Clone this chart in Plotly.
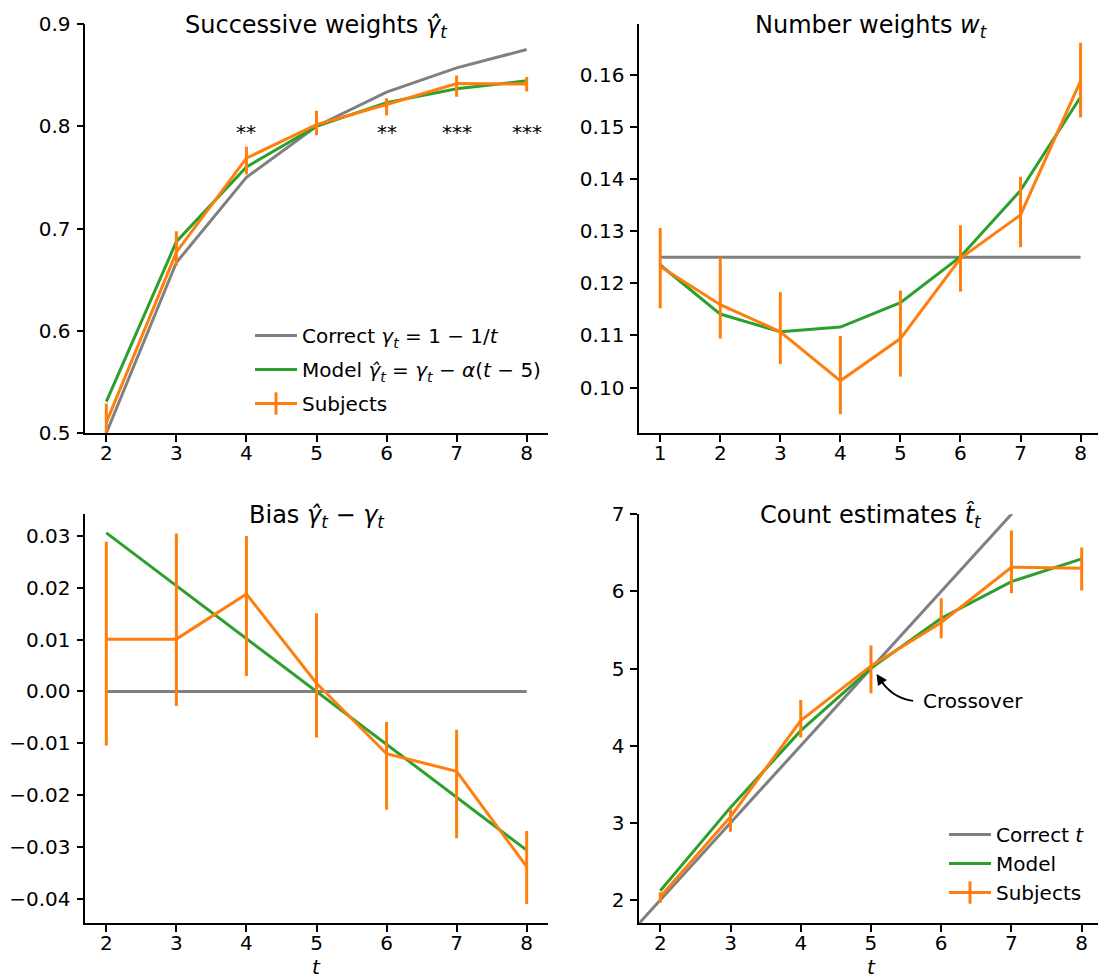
import plotly.graph_objects as go

# ---------------- data ----------------
t_succ = [2, 3, 4, 5, 6, 7, 8]
gamma_correct = [0.5, 0.6667, 0.75, 0.8, 0.8333, 0.8571, 0.875]
gamma_model = [0.5306, 0.6871, 0.7602, 0.8000, 0.8231, 0.8367, 0.8444]
gamma_subj = [0.5101, 0.6768, 0.7688, 0.8016, 0.8213, 0.8417, 0.8412]

bias_correct = [0, 0, 0, 0, 0, 0, 0]
bias_model = [0.0306, 0.0204, 0.0102, 0.0, -0.0102, -0.0204, -0.0306]
bias_subj = [0.0101, 0.0101, 0.0188, 0.0016, -0.0120, -0.0154, -0.0338]
subj_err_plus = [0.0188, 0.0204, 0.0112, 0.0135, 0.0061, 0.0080, 0.0069]
subj_err_minus = [0.0205, 0.0129, 0.0158, 0.0105, 0.0108, 0.0129, 0.0072]

t_num = [1, 2, 3, 4, 5, 6, 7, 8]
w_correct = [0.125, 0.125, 0.125, 0.125, 0.125, 0.125, 0.125, 0.125]
w_model = [0.1235, 0.1141, 0.1107, 0.1116, 0.1163, 0.1251, 0.1378, 0.1557]
w_subj = [0.1232, 0.1159, 0.1107, 0.1013, 0.1094, 0.1248, 0.1331, 0.1588]
w_err_plus = [0.0074, 0.0091, 0.0076, 0.0086, 0.0092, 0.0063, 0.0073, 0.0073]
w_err_minus = [0.0080, 0.0065, 0.0062, 0.0064, 0.0073, 0.0064, 0.0062, 0.0070]

t_count = [2, 3, 4, 5, 6, 7, 8]
identity_line = [0, 10]
count_model = [2.121, 3.201, 4.195, 5.003, 5.652, 6.127, 6.421]
count_subj = [2.043, 3.080, 4.325, 5.034, 5.596, 6.313, 6.300]
count_err_plus = [0.057, 0.095, 0.268, 0.263, 0.315, 0.475, 0.268]
count_err_minus = [0.078, 0.194, 0.220, 0.355, 0.204, 0.337, 0.290]

stars_t = [4, 6, 7, 8]
stars_text = ["**", "**", "***", "***"]
stars_level = 0.7945

titles = ["Successive weights <i>γ̂</i><sub><i>t</i></sub>",
          "Number weights <i>w</i><sub><i>t</i></sub>",
          "Bias <i>γ̂</i><sub><i>t</i></sub> − <i>γ</i><sub><i>t</i></sub>",
          "Count estimates <i>t̂</i><sub><i>t</i></sub>"]
x_label = "<i>t</i>"

# ---------------- style ----------------
FONT = "DejaVu Sans"
ORANGE = "#ff7f0e"
GREEN = "#2ca02c"
GRAY = "#808080"
LW = 3
W, H = 1098, 978


def px(p):
    return p / W


def py(p):
    return 1 - p / H


fig = go.Figure()


def line(x, y, color, name, ax, legend=None, show=False, group=None):
    fig.add_trace(go.Scatter(x=x, y=y, mode="lines", line=dict(color=color, width=LW),
                             name=name, showlegend=show, legend=legend, legendgroup=group,
                             xaxis=ax[0], yaxis=ax[1], hoverinfo="skip"))


def subj(x, y, ep, em, ax):
    fig.add_trace(go.Scatter(x=x, y=y, mode="lines", line=dict(color=ORANGE, width=LW),
                             error_y=dict(type="data", array=ep, arrayminus=em, symmetric=False,
                                          color=ORANGE, thickness=LW, width=0),
                             showlegend=False, xaxis=ax[0], yaxis=ax[1], name="Subjects"))


def subj_legend(ax, legend, group=None):
    fig.add_trace(go.Scatter(x=[None], y=[None], mode="lines+markers", name="Subjects",
                             line=dict(color=ORANGE, width=LW),
                             marker=dict(symbol="line-ns", size=16,
                                         line=dict(color=ORANGE, width=LW)),
                             legend=legend, legendgroup=group, showlegend=True,
                             xaxis=ax[0], yaxis=ax[1]))


A1, A2, A3, A4 = ("x", "y"), ("x2", "y2"), ("x3", "y3"), ("x4", "y4")

# Panel 1
line(t_succ, gamma_correct, GRAY, "Correct <i>γ</i><sub><i>t</i></sub> = 1 − 1/<i>t</i>", A1,
     "legend", True, "g1")
line(t_succ, gamma_model, GREEN,
     "Model <i>γ̂</i><sub><i>t</i></sub> = <i>γ</i><sub><i>t</i></sub> − <i>α</i>(<i>t</i> − 5)", A1,
     "legend", True, "g2")
subj(t_succ, gamma_subj, subj_err_plus, subj_err_minus, A1)
subj_legend(A1, "legend", "g3")

# Panel 2
line(t_num, w_correct, GRAY, "Correct", A2)
line(t_num, w_model, GREEN, "Model", A2)
subj(t_num, w_subj, w_err_plus, w_err_minus, A2)

# Panel 3
line(t_succ, bias_correct, GRAY, "Correct", A3)
line(t_succ, bias_model, GREEN, "Model", A3)
subj(t_succ, bias_subj, subj_err_plus, subj_err_minus, A3)

# Panel 4
line(identity_line, identity_line, GRAY, "Correct <i>t</i>", A4, "legend2", True)
line(t_count, count_model, GREEN, "Model", A4, "legend2", True)
subj(t_count, count_subj, count_err_plus, count_err_minus, A4)
subj_legend(A4, "legend2")

# ---------------- axes ----------------
left_dom = [px(85.3), px(547.7)]
right_dom = [px(639.2), 1.0]
top_dom = [py(433), py(24)]
bot_dom = [py(923.2), py(514.2)]

common = dict(showline=True, linecolor="black", linewidth=1.6, ticks="outside", ticklen=7,
              tickwidth=1.6, tickcolor="black", showgrid=False, zeroline=False,
              automargin=False, tickfont=dict(size=20, family=FONT, color="black"))
xbase = dict(common, ticklabelstandoff=-6)
ybase = dict(common, ticklabelstandoff=2)

fig.update_layout(
    xaxis=dict(xbase, domain=left_dom, anchor="y", range=[1.7, 8.3], tickvals=t_succ),
    yaxis=dict(ybase, domain=top_dom, anchor="x", range=[0.5, 0.9], dtick=0.1, tickformat=".1f"),
    xaxis2=dict(xbase, domain=right_dom, anchor="y2", range=[0.65, 0.65 + (1098 - 639.2) / 60.05],
                tickvals=t_num),
    yaxis2=dict(ybase, domain=top_dom, anchor="x2", range=[0.0913, 0.1697], dtick=0.01,
                tick0=0, tickformat=".2f"),
    xaxis3=dict(xbase, domain=left_dom, anchor="y3", range=[1.7, 8.3], tickvals=t_succ),
    yaxis3=dict(ybase, domain=bot_dom, anchor="x3", range=[-0.0447, 0.0342], dtick=0.01,
                tick0=0, tickformat=".2f"),
    xaxis4=dict(xbase, domain=right_dom, anchor="y4", range=[1.7, 2 + (1098 - 660.3) / 70.23],
                tickvals=t_count),
    yaxis4=dict(ybase, domain=bot_dom, anchor="x4", range=[1.7, 7.0], dtick=1),
)

legend_common = dict(xanchor="left", yanchor="top", bgcolor="rgba(0,0,0,0)", borderwidth=0,
                     font=dict(size=20, family=FONT, color="black"), itemwidth=42)
fig.update_layout(
    legend=dict(legend_common, x=px(250), y=py(316), traceorder="grouped", tracegroupgap=5),
    legend2=dict(legend_common, x=px(944), y=py(815), traceorder="normal"),
)

# ---------------- annotations ----------------
ann = []
title_pos = [(316.5, 26), (871, 26), (316.5, 516), (871, 516)]
for txt, (cx, cy) in zip(titles, title_pos):
    ann.append(dict(text=txt, x=px(cx), y=py(cy), xref="paper", yref="paper",
                    xanchor="center", yanchor="middle", showarrow=False,
                    font=dict(size=24, family=FONT, color="black")))
# x-axis labels of the bottom row
for cx in (316.5, 871.5):
    ann.append(dict(text=x_label, x=px(cx), y=py(967), xref="paper", yref="paper",
                    xanchor="center", yanchor="middle", showarrow=False,
                    font=dict(size=20, family=FONT, color="black")))
for tx, st in zip(stars_t, stars_text):
    ann.append(dict(text=st, x=tx, y=stars_level, xref="x", yref="y", showarrow=False,
                    xanchor="center", yanchor="middle",
                    font=dict(size=20, family=FONT, color="black")))
# Crossover label and curved arrow
ann.append(dict(text="Crossover", x=5.71, y=4.58, xref="x4", yref="y4", showarrow=False,
                xanchor="left", yanchor="middle", font=dict(size=20, family=FONT, color="black")))
ann.append(dict(text="", x=5.08, y=4.93, ax=5.13, ay=4.86, xref="x4", yref="y4",
                axref="x4", ayref="y4", showarrow=True, arrowhead=2, arrowsize=1.2,
                arrowwidth=1.8, arrowcolor="black"))
fig.add_shape(type="path", xref="x4", yref="y4",
              path="M 5.60,4.58 Q 5.28,4.62 5.11,4.89",
              line=dict(color="black", width=1.8))

fig.update_layout(annotations=ann, width=W, height=H,
                  margin=dict(l=0, r=0, t=0, b=0, autoexpand=False),
                  paper_bgcolor="white", plot_bgcolor="white",
                  font=dict(family=FONT, size=20, color="black"))

fig.write_html("out.html",
               config={"displayModeBar": False},
               post_script="document.body.style.margin='0';"
                           "document.body.style.overflow='hidden';")
